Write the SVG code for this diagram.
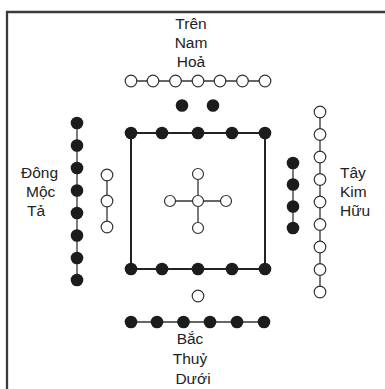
<svg xmlns="http://www.w3.org/2000/svg" width="385" height="389" viewBox="0 0 385 389">
<style>
.t{font-family:"Liberation Sans",Arial,sans-serif;font-size:15.5px;fill:#222}
.m{text-anchor:middle}
.ln{stroke:#333;stroke-width:1.3;fill:none}
.sq{stroke:#222;stroke-width:2;fill:none}
.b{fill:#1c1c1c}
.o{fill:#fff;stroke:#333;stroke-width:1.2}
</style>
<rect width="385" height="389" fill="#fff"/>
<path d="M7,389 V12 H385" fill="none" stroke="#3a3a3a" stroke-width="2.3"/>
<g id="connectors">
<line class="ln" x1="131" y1="81" x2="265" y2="81"/>
<line class="ln" x1="77" y1="123" x2="77" y2="280"/>
<line class="ln" x1="107" y1="175" x2="107" y2="227"/>
<line class="ln" x1="293" y1="163" x2="293" y2="228"/>
<line class="ln" x1="320" y1="112" x2="320" y2="292"/>
<line class="ln" x1="131" y1="322" x2="264" y2="322"/>
<line class="ln" x1="198" y1="174" x2="198" y2="228"/>
<line class="ln" x1="170" y1="201" x2="226" y2="201"/>
<rect class="sq" x="131" y="133" width="134" height="136"/>
</g>
<g id="south-label"><text class="t m" x="191" y="29">Trên</text><text class="t m" x="191" y="48">Nam</text><text class="t m" x="191" y="67">Hoả</text></g>
<g id="north-label"><text class="t m" x="190" y="344">Bắc</text><text class="t m" x="190" y="364">Thuỷ</text><text class="t m" x="193" y="384">Dưới</text></g>
<g id="east-label"><text class="t" x="21" y="178">Đông</text><text class="t" x="26" y="197">Mộc</text><text class="t" x="27" y="216">Tả</text></g>
<g id="west-label"><text class="t" x="340" y="178">Tây</text><text class="t" x="340" y="197">Kim</text><text class="t" x="340" y="216">Hữu</text></g>
<g id="seven">
<circle class="o" cx="131" cy="81" r="5.8"/><circle class="o" cx="153" cy="81" r="5.8"/><circle class="o" cx="175.5" cy="81" r="5.8"/><circle class="o" cx="198" cy="81" r="5.8"/><circle class="o" cx="220" cy="81" r="5.8"/><circle class="o" cx="242.5" cy="81" r="5.8"/><circle class="o" cx="265" cy="81" r="5.8"/>
</g>
<g id="two"><circle class="b" cx="182" cy="105.5" r="6.3"/><circle class="b" cx="213" cy="105.5" r="6.3"/></g>
<g id="eight">
<circle class="b" cx="77" cy="123" r="6.3"/><circle class="b" cx="77" cy="145.5" r="6.3"/><circle class="b" cx="77" cy="168" r="6.3"/><circle class="b" cx="77" cy="190.5" r="6.3"/><circle class="b" cx="77" cy="213" r="6.3"/><circle class="b" cx="77" cy="235.5" r="6.3"/><circle class="b" cx="77" cy="258" r="6.3"/><circle class="b" cx="77" cy="280" r="6.3"/>
</g>
<g id="three"><circle class="o" cx="107" cy="175" r="5.8"/><circle class="o" cx="107" cy="201" r="5.8"/><circle class="o" cx="107" cy="227" r="5.8"/></g>
<g id="ten">
<circle class="b" cx="131" cy="133" r="6.3"/><circle class="b" cx="162" cy="133" r="6.3"/><circle class="b" cx="198" cy="133" r="6.3"/><circle class="b" cx="232" cy="133" r="6.3"/><circle class="b" cx="265" cy="133" r="6.3"/>
<circle class="b" cx="131" cy="269" r="6.3"/><circle class="b" cx="162" cy="269" r="6.3"/><circle class="b" cx="198" cy="269" r="6.3"/><circle class="b" cx="232" cy="269" r="6.3"/><circle class="b" cx="265" cy="269" r="6.3"/>
</g>
<g id="five"><circle class="o" cx="198" cy="174" r="5.5"/><circle class="o" cx="198" cy="228" r="5.5"/><circle class="o" cx="170" cy="201" r="5.5"/><circle class="o" cx="226" cy="201" r="5.5"/><circle class="o" cx="198" cy="201" r="5.5"/></g>
<g id="four"><circle class="b" cx="293" cy="163" r="6.3"/><circle class="b" cx="293" cy="184.5" r="6.3"/><circle class="b" cx="293" cy="206.5" r="6.3"/><circle class="b" cx="293" cy="228" r="6.3"/></g>
<g id="nine">
<circle class="o" cx="320" cy="112" r="5.8"/><circle class="o" cx="320" cy="134.5" r="5.8"/><circle class="o" cx="320" cy="157" r="5.8"/><circle class="o" cx="320" cy="179.5" r="5.8"/><circle class="o" cx="320" cy="202" r="5.8"/><circle class="o" cx="320" cy="224.5" r="5.8"/><circle class="o" cx="320" cy="247" r="5.8"/><circle class="o" cx="320" cy="269.5" r="5.8"/><circle class="o" cx="320" cy="292" r="5.8"/>
</g>
<g id="one"><circle class="o" cx="198" cy="296" r="5.8"/></g>
<g id="six">
<circle class="b" cx="131" cy="322" r="6.3"/><circle class="b" cx="157" cy="322" r="6.3"/><circle class="b" cx="183.5" cy="322" r="6.3"/><circle class="b" cx="210" cy="322" r="6.3"/><circle class="b" cx="237" cy="322" r="6.3"/><circle class="b" cx="264" cy="322" r="6.3"/>
</g>
</svg>
